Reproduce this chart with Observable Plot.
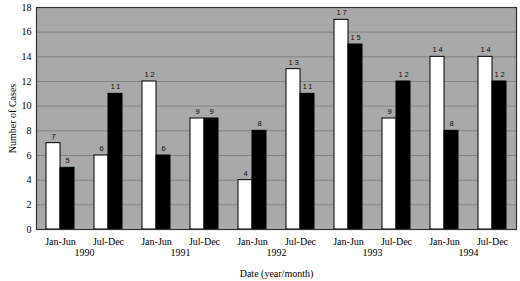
<!DOCTYPE html>
<html><head><meta charset="utf-8">
<script src="https://cdn.jsdelivr.net/npm/d3@7"></script>
<script src="https://cdn.jsdelivr.net/npm/@observablehq/plot@0.6"></script>
<style>body{margin:0;background:#fff} .vals text{letter-spacing:1.8px}</style>
</head><body><div id="chart"></div>
<script>
const years = ["1990","1991","1992","1993","1994"];
const halves = ["Jan-Jun","Jul-Dec"];
const whiteValues = [7,6,12,9,4,13,17,9,14,14];
const blackValues = [5,11,6,9,8,11,15,12,8,12];
const yTicks = [0,2,4,6,8,10,12,14,16,18];

const periods = years.flatMap(y => halves.map(h => y + " " + h));
const whiteData = periods.map((p,i) => ({period:p, value:whiteValues[i]}));
const blackData = periods.map((p,i) => ({period:p, value:blackValues[i]}));
const yearData = years.map(y => ({period: y + " Jan-Jun", year: y}));

const serif = "Liberation Serif, Times New Roman, serif";
const sans = "Liberation Sans, Arial, sans-serif";
const chart = Plot.plot({
  width: 520, height: 281,
  marginLeft: 36, marginRight: 4, marginTop: 7, marginBottom: 52,
  style: {fontFamily: serif, fontSize: "10px", background: "#fff", color: "#000"},
  x: {domain: periods, padding: 0},
  y: {domain: [0,18]},
  marks: [
    Plot.frame({fill: "#a9a9a9"}),
    Plot.gridY(yTicks, {stroke: "#7a7a7a", strokeOpacity: 1, strokeWidth: 0.8}),
    Plot.barY(whiteData, {x: "period", y: "value", fill: "#fff", stroke: "#000", strokeWidth: 1, insetLeft: 10, insetRight: 24}),
    Plot.barY(blackData, {x: "period", y: "value", fill: "#000", stroke: "#000", strokeWidth: 1, insetLeft: 24, insetRight: 10}),
    Plot.text(whiteData, {x: "period", y: "value", text: d => String(d.value), dx: -6, dy: -7, fontFamily: sans, fontSize: 7.5, fill: "#111", className: "vals"}),
    Plot.text(blackData, {x: "period", y: "value", text: d => String(d.value), dx: 8, dy: -7, fontFamily: sans, fontSize: 7.5, fill: "#111", className: "vals"}),
    Plot.frame({stroke: "#333", strokeWidth: 1.2}),
    Plot.axisY(yTicks, {tickSize: 0, tickPadding: 5, label: "Number of Cases", labelAnchor: "center", labelArrow: "none", labelOffset: 28, fontSize: 10}),
    Plot.axisX({tickSize: 0, tickPadding: 8, tickFormat: d => d.split(" ")[1], label: "Date (year/month)", labelAnchor: "center", labelArrow: "none", labelOffset: 47, fontSize: 10}),
    Plot.text(yearData, {x: "period", text: "year", frameAnchor: "bottom", dx: 24, dy: 26, fontSize: 10})
  ]
});
document.getElementById("chart").appendChild(chart);
</script></body></html>
